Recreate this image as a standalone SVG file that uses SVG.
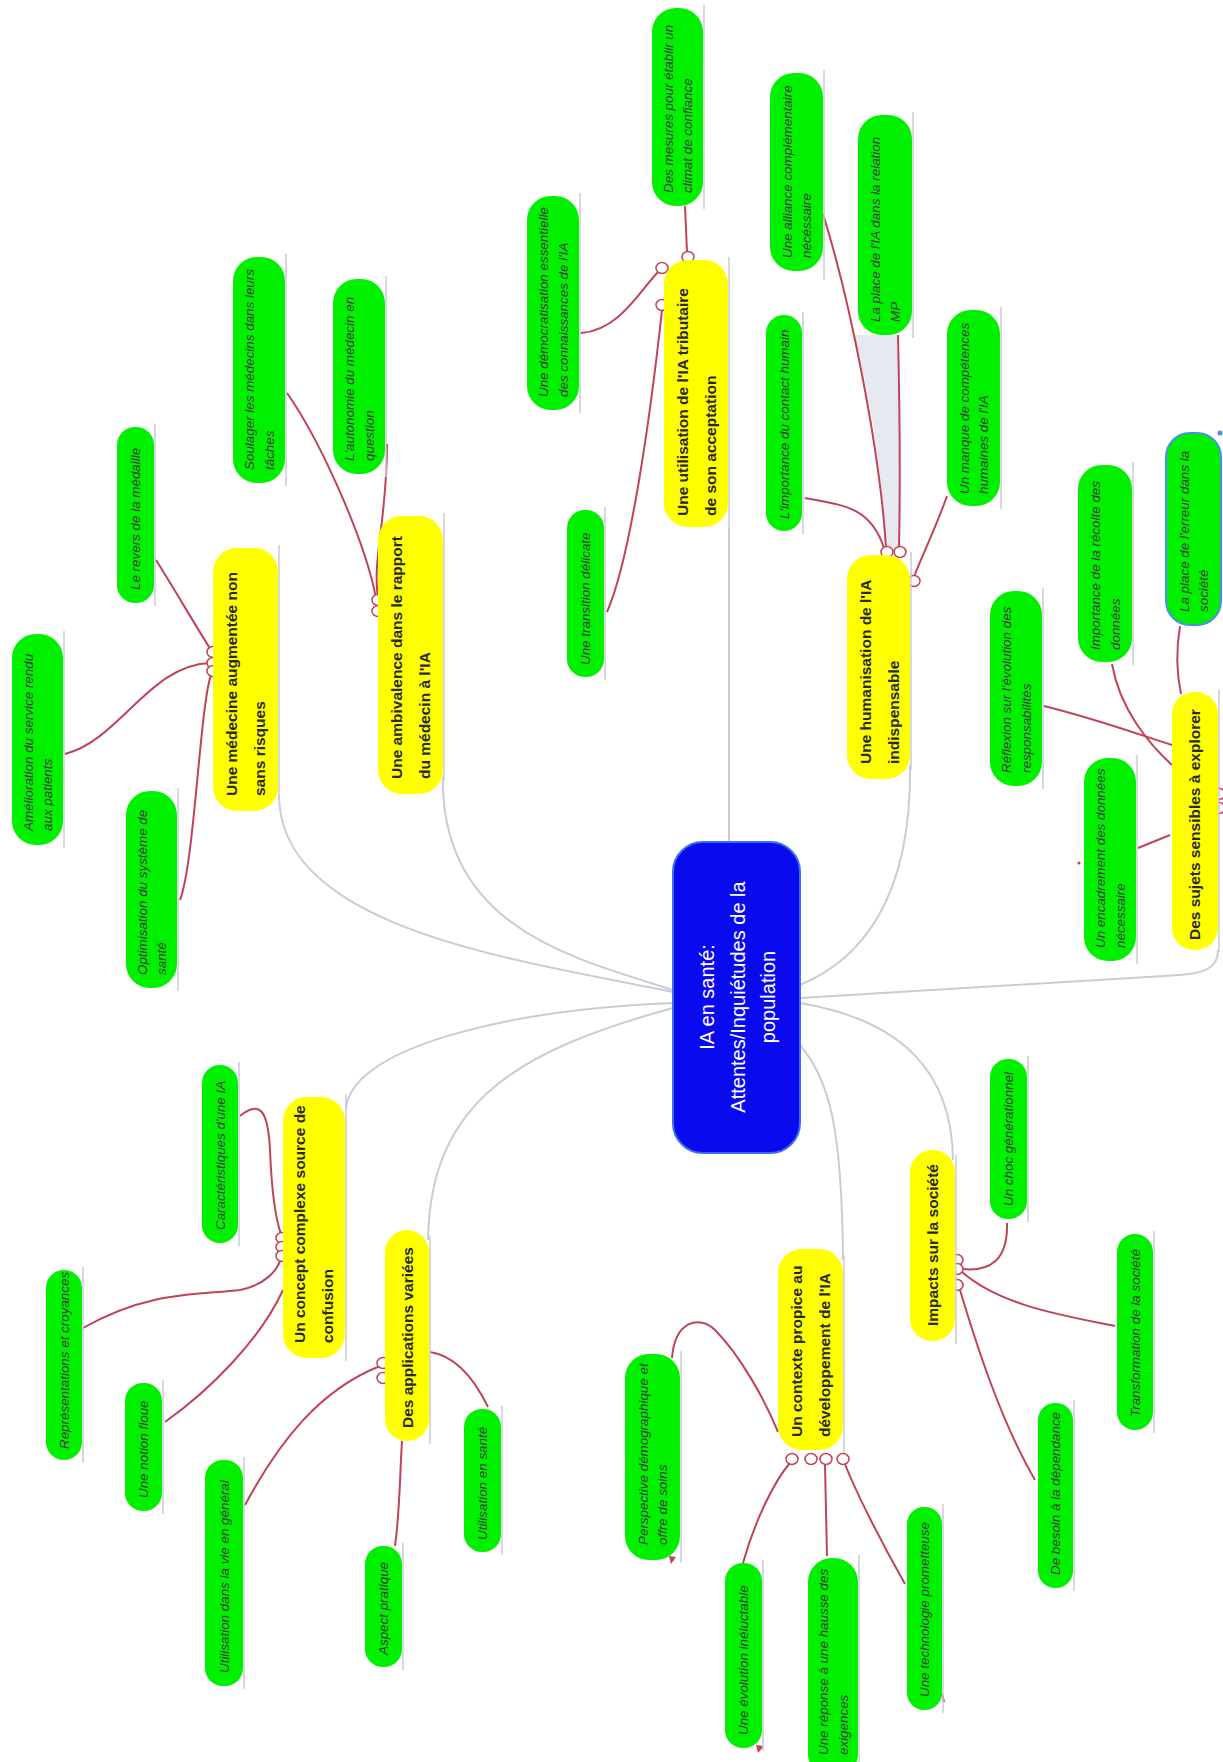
<svg xmlns="http://www.w3.org/2000/svg" width="1223" height="1762" viewBox="0 0 1223 1762">
<style>
.gb{fill:#00f000}
.yb{fill:#ffff00}
.gt{font-family:'Liberation Sans',Arial,sans-serif;font-style:italic;font-size:13.4px;fill:#363c36}
.yt{font-family:'Liberation Sans',Arial,sans-serif;font-weight:bold;font-size:15.5px;fill:#2a2a2a}
.ct{font-family:'Liberation Sans',Arial,sans-serif;font-size:20px;fill:#ffffff;text-anchor:middle}
.ul{stroke:#c9cdd6;stroke-width:1.5;fill:none}
.rc{fill:none;stroke:#c04458;stroke-width:2}
.gc{fill:none;stroke:#c8ccd4;stroke-width:2}
.dot{fill:#ffffff;stroke:#c04458;stroke-width:1.5}
</style>
<rect width="1223" height="1762" fill="#ffffff"/>

<g id="connectors">
  <path d="M853,335 L898,335 C900,420 900,500 899,548 L886,548 C882,470 870,390 853,335 Z" fill="#e6e9ef"/>
  <!-- gray from center -->
  <path class="gc" d="M279,795 C279,930 520,960 673,992"/>
  <path class="gc" d="M443,777 C440,930 580,960 673,990"/>
  <path class="gc" d="M729,527 L729,842"/>
  <path class="gc" d="M910,765 C912,900 860,960 800,985"/>
  <path class="gc" d="M1218,950 C1218,968 1205,973 1180,975 L800,998"/>
  <path class="gc" d="M346,1110 C348,1050 500,1010 673,1003"/>
  <path class="gc" d="M673,1008 C520,1050 430,1100 428,1240"/>
  <path class="gc" d="M800,1003 C900,1020 952,1070 953,1160"/>
  <path class="gc" d="M800,1045 C830,1080 842,1130 843,1260"/>
  <!-- red -->
  <path class="rc" d="M156,560 C175,590 195,625 211,650"/>
  <path class="rc" d="M65,754 C120,740 150,664 211,663"/>
  <path class="rc" d="M180,900 C195,860 200,700 212,672"/>
  <path class="rc" d="M287,393 C320,440 365,540 376,598"/>
  <path class="rc" d="M387,444 C387,520 372,560 378,598"/>
  <path class="rc" d="M685,206 L687,252"/>
  <path class="rc" d="M581,333 C620,330 640,290 659,271"/>
  <path class="rc" d="M607,612 C630,560 650,420 662,310"/>
  <path class="rc" d="M823,214 C850,300 880,450 886,548"/>
  <path class="rc" d="M898,335 C900,420 900,500 899,548"/>
  <path class="rc" d="M805,498 C840,505 870,505 884,548"/>
  <path class="rc" d="M947,496 C935,530 920,560 914,577"/>
  <path class="rc" d="M1044,706 C1100,720 1140,735 1172,745"/>
  <path class="rc" d="M1112,664 C1120,710 1150,745 1172,765"/>
  <path class="rc" d="M1180,626 C1176,650 1177,675 1181,694"/>
  <path class="rc" d="M1138,848 L1170,835"/>
  <path class="rc" d="M240,1116 C260,1100 268,1110 270,1150 C272,1200 276,1220 281,1234"/>
  <path class="rc" d="M83,1328 C150,1290 200,1295 240,1290 C265,1285 278,1270 281,1258"/>
  <path class="rc" d="M165,1422 C210,1390 260,1340 283,1290"/>
  <path class="rc" d="M245,1505 C280,1440 320,1390 380,1366"/>
  <path class="rc" d="M395,1546 C400,1510 400,1470 402,1441"/>
  <path class="rc" d="M488,1407 C470,1370 450,1355 430,1352"/>
  <path class="rc" d="M672,1358 C675,1320 700,1315 715,1330 C740,1355 765,1400 778,1432"/>
  <path class="rc" d="M743,1563 C755,1520 775,1480 790,1463"/>
  <path class="rc" d="M827,1556 L825,1465"/>
  <path class="rc" d="M905,1584 C880,1540 855,1490 845,1464"/>
  <path class="rc" d="M1007,1223 C1008,1260 990,1272 962,1269"/>
  <path class="rc" d="M1115,1326 C1060,1315 1000,1305 962,1272"/>
  <path class="rc" d="M1035,1480 C1000,1420 975,1340 960,1290"/>
  <!-- small red marks -->
  <path d="M669,1556 L676,1557 L671,1564 Z" fill="#c04458"/>
  <path d="M756,1745 L764,1746 L758,1753 Z" fill="#c04458"/>
  <path d="M942,1694 L944,1702" class="rc"/>
  <circle cx="1079" cy="863" r="1.5" fill="#c04458"/>
  <!-- connection circles -->
  <ellipse class="dot" cx="213" cy="652" rx="6" ry="5.5"/>
  <ellipse class="dot" cx="213" cy="663" rx="6" ry="5.5"/>
  <ellipse class="dot" cx="213" cy="671" rx="6" ry="5.5"/>
  <ellipse class="dot" cx="378" cy="600" rx="6" ry="5.5"/>
  <ellipse class="dot" cx="378" cy="611" rx="6" ry="5.5"/>
  <ellipse class="dot" cx="662" cy="268" rx="6" ry="5.5"/>
  <ellipse class="dot" cx="688" cy="257" rx="6" ry="5.5"/>
  <ellipse class="dot" cx="662" cy="305" rx="6" ry="5.5"/>
  <ellipse class="dot" cx="887" cy="552" rx="6" ry="5.5"/>
  <ellipse class="dot" cx="900" cy="552" rx="6" ry="5.5"/>
  <ellipse class="dot" cx="914" cy="581" rx="6" ry="5.5"/>
  <ellipse class="dot" cx="1219" cy="794" rx="6" ry="5.5"/>
  <ellipse class="dot" cx="1219" cy="808" rx="6" ry="5.5"/>
  <ellipse class="dot" cx="282" cy="1238" rx="6" ry="5.5"/>
  <ellipse class="dot" cx="282" cy="1247" rx="6" ry="5.5"/>
  <ellipse class="dot" cx="282" cy="1256" rx="6" ry="5.5"/>
  <ellipse class="dot" cx="383" cy="1363" rx="6" ry="5.5"/>
  <ellipse class="dot" cx="383" cy="1378" rx="6" ry="5.5"/>
  <ellipse class="dot" cx="792" cy="1459" rx="6" ry="5.5"/>
  <ellipse class="dot" cx="811" cy="1459" rx="6" ry="5.5"/>
  <ellipse class="dot" cx="826" cy="1459" rx="6" ry="5.5"/>
  <ellipse class="dot" cx="843" cy="1459" rx="6" ry="5.5"/>
  <ellipse class="dot" cx="957" cy="1260" rx="6" ry="5.5"/>
  <ellipse class="dot" cx="957" cy="1269" rx="6" ry="5.5"/>
  <ellipse class="dot" cx="957" cy="1285" rx="6" ry="5.5"/>
</g>

<g id="center">
  <rect x="673" y="842" width="127" height="311" rx="30" fill="#0a0aee" stroke="#3a6df0" stroke-width="2"/>
  <text class="ct" transform="translate(714,997) rotate(-90)">IA en santé:</text>
  <text class="ct" transform="translate(745,997) rotate(-90)">Attentes/Inquiétudes de la</text>
  <text class="ct" transform="translate(775,997) rotate(-90)">population</text>
</g>

<g id="y-medecine"><rect class="yb" x="213" y="548" width="65" height="263" rx="24"/><line class="ul" x1="279" y1="545" x2="279" y2="800"/>
  <text class="yt" transform="translate(237,796) rotate(-90)"><tspan x="0" y="0">Une médecine augmentée non</tspan><tspan x="0" y="28">sans risques</tspan></text></g>
<g id="y-ambivalence"><rect class="yb" x="378" y="516" width="65" height="278" rx="24"/><line class="ul" x1="444" y1="513" x2="444" y2="780"/>
  <text class="yt" transform="translate(402,779) rotate(-90)"><tspan x="0" y="0">Une ambivalence dans le rapport</tspan><tspan x="0" y="28">du médecin à l'IA</tspan></text></g>
<g id="y-tributaire"><rect class="yb" x="664" y="260" width="64" height="267" rx="24"/><line class="ul" x1="729" y1="257" x2="729" y2="527"/>
  <text class="yt" transform="translate(688,516) rotate(-90)"><tspan x="0" y="0">Une utilisation de l'IA tributaire</tspan><tspan x="0" y="28">de son acceptation</tspan></text></g>
<g id="y-humanisation"><rect class="yb" x="847" y="555" width="63" height="224" rx="24"/><line class="ul" x1="911" y1="552" x2="911" y2="770"/>
  <text class="yt" transform="translate(871,764) rotate(-90)"><tspan x="0" y="0">Une humanisation de l'IA</tspan><tspan x="0" y="28">indispensable</tspan></text></g>
<g id="y-sujets"><rect class="yb" x="1172" y="692" width="46" height="258" rx="22"/><line class="ul" x1="1219" y1="689" x2="1219" y2="952"/>
  <text class="yt" transform="translate(1200,940) rotate(-90)">Des sujets sensibles à explorer</text></g>
<g id="y-concept"><rect class="yb" x="283" y="1097" width="62" height="261" rx="24"/><line class="ul" x1="346" y1="1094" x2="346" y2="1361"/>
  <text class="yt" transform="translate(305,1343) rotate(-90)"><tspan x="0" y="0">Un concept complexe source de</tspan><tspan x="0" y="28">confusion</tspan></text></g>
<g id="y-applications"><rect class="yb" x="385" y="1230" width="44" height="211" rx="22"/><line class="ul" x1="430" y1="1236" x2="430" y2="1444"/>
  <text class="yt" transform="translate(412.5,1428) rotate(-90)">Des applications variées</text></g>
<g id="y-contexte"><rect class="yb" x="778" y="1249" width="65" height="201" rx="24"/><line class="ul" x1="844" y1="1255" x2="844" y2="1453"/>
  <text class="yt" transform="translate(802,1437) rotate(-90)"><tspan x="0" y="0">Un contexte propice au</tspan><tspan x="0" y="28">développement de l'IA</tspan></text></g>
<g id="y-impacts"><rect class="yb" x="910" y="1150" width="45" height="191" rx="22"/><line class="ul" x1="956" y1="1155" x2="956" y2="1344"/>
  <text class="yt" transform="translate(938,1326) rotate(-90)">Impacts sur la société</text></g>

<g id="g-revers"><rect class="gb" x="117" y="427" width="37" height="176" rx="18"/><line class="ul" x1="155" y1="424" x2="155" y2="606"/>
  <text class="gt" transform="translate(140,590) rotate(-90)">Le revers de la médaille</text></g>
<g id="g-soulager"><rect class="gb" x="233" y="257" width="52" height="226" rx="24"/><line class="ul" x1="286" y1="254" x2="286" y2="486"/>
  <text class="gt" transform="translate(254,470) rotate(-90)"><tspan x="0" y="0">Soulager les médecins dans leurs</tspan><tspan x="0" y="19.5">tâches</tspan></text></g>
<g id="g-autonomie"><rect class="gb" x="333" y="279" width="52" height="195" rx="24"/><line class="ul" x1="386" y1="276" x2="386" y2="477"/>
  <text class="gt" transform="translate(354,461) rotate(-90)"><tspan x="0" y="0">L'autonomie du médecin en</tspan><tspan x="0" y="19.5">question</tspan></text></g>
<g id="g-amelioration"><rect class="gb" x="12" y="634" width="51" height="211" rx="24"/><line class="ul" x1="64" y1="631" x2="64" y2="848"/>
  <text class="gt" transform="translate(32.5,831) rotate(-90)"><tspan x="0" y="0">Amélioration du service rendu</tspan><tspan x="0" y="19.5">aux patients</tspan></text></g>
<g id="g-optimisation"><rect class="gb" x="126" y="791" width="51" height="197" rx="24"/><line class="ul" x1="178" y1="788" x2="178" y2="991"/>
  <text class="gt" transform="translate(146.5,975) rotate(-90)"><tspan x="0" y="0">Optimisation du système de</tspan><tspan x="0" y="19.5">santé</tspan></text></g>
<g id="g-caracteristiques"><rect class="gb" x="202" y="1065" width="36" height="178" rx="18"/><line class="ul" x1="239" y1="1062" x2="239" y2="1246"/>
  <text class="gt" transform="translate(224.5,1230) rotate(-90)">Caractéristiques d'une IA</text></g>
<g id="g-representations"><rect class="gb" x="46" y="1270" width="36" height="190" rx="18"/><line class="ul" x1="83" y1="1267" x2="83" y2="1463"/>
  <text class="gt" transform="translate(68.5,1449) rotate(-90)">Représentations et croyances</text></g>
<g id="g-notion"><rect class="gb" x="125" y="1383" width="37" height="128" rx="18"/><line class="ul" x1="163" y1="1380" x2="163" y2="1514"/>
  <text class="gt" transform="translate(148,1498) rotate(-90)">Une notion floue</text></g>
<g id="g-vie"><rect class="gb" x="205" y="1460" width="38" height="226" rx="18"/><line class="ul" x1="244" y1="1457" x2="244" y2="1689"/>
  <text class="gt" transform="translate(228.5,1673) rotate(-90)">Utilisation dans la vie en général</text></g>
<g id="g-aspect"><rect class="gb" x="365" y="1546" width="37" height="121" rx="18"/><line class="ul" x1="403" y1="1543" x2="403" y2="1670"/>
  <text class="gt" transform="translate(388,1655) rotate(-90)">Aspect pratique</text></g>
<g id="g-sante"><rect class="gb" x="464" y="1409" width="37" height="143" rx="18"/><line class="ul" x1="502" y1="1406" x2="502" y2="1555"/>
  <text class="gt" transform="translate(487,1540) rotate(-90)">Utilisation en santé</text></g>
<g id="g-perspective"><rect class="gb" x="625" y="1354" width="55" height="206" rx="24"/><line class="ul" x1="681" y1="1351" x2="681" y2="1563"/>
  <text class="gt" transform="translate(647.5,1545) rotate(-90)"><tspan x="0" y="0">Perspective démographique et</tspan><tspan x="0" y="19.5">offre de soins</tspan></text></g>
<g id="g-evolution"><rect class="gb" x="725" y="1563" width="37" height="185" rx="18"/><line class="ul" x1="763" y1="1560" x2="763" y2="1751"/>
  <text class="gt" transform="translate(748,1735) rotate(-90)">Une évolution inéluctable</text></g>
<g id="g-reponse"><rect class="gb" x="808" y="1558" width="50" height="220" rx="24"/><line class="ul" x1="859" y1="1555" x2="859" y2="1762"/>
  <text class="gt" transform="translate(828,1755) rotate(-90)"><tspan x="0" y="0">Une réponse à une hausse des</tspan><tspan x="0" y="19.5">exigences</tspan></text></g>
<g id="g-technologie"><rect class="gb" x="907" y="1507" width="35" height="203" rx="17"/><line class="ul" x1="943" y1="1504" x2="943" y2="1713"/>
  <text class="gt" transform="translate(929,1697) rotate(-90)">Une technologie prometteuse</text></g>
<g id="g-besoin"><rect class="gb" x="1038" y="1403" width="35" height="185" rx="17"/><line class="ul" x1="1074" y1="1400" x2="1074" y2="1591"/>
  <text class="gt" transform="translate(1060,1575) rotate(-90)">De besoin à la dépendance</text></g>
<g id="g-transformation"><rect class="gb" x="1117" y="1234" width="36" height="196" rx="18"/><line class="ul" x1="1154" y1="1231" x2="1154" y2="1433"/>
  <text class="gt" transform="translate(1139.5,1417) rotate(-90)">Transformation de la société</text></g>
<g id="g-choc"><rect class="gb" x="990" y="1059" width="37" height="160" rx="18"/><line class="ul" x1="1028" y1="1056" x2="1028" y2="1222"/>
  <text class="gt" transform="translate(1013,1206) rotate(-90)">Un choc générationnel</text></g>
<g id="g-encadrement"><rect class="gb" x="1084" y="758" width="52" height="203" rx="24"/><line class="ul" x1="1137" y1="755" x2="1137" y2="964"/>
  <text class="gt" transform="translate(1105,948) rotate(-90)"><tspan x="0" y="0">Un encadrement des données</tspan><tspan x="0" y="19.5">nécessaire</tspan></text></g>
<g id="g-reflexion"><rect class="gb" x="990" y="591" width="52" height="195" rx="24"/><line class="ul" x1="1043" y1="588" x2="1043" y2="789"/>
  <text class="gt" transform="translate(1011,773) rotate(-90)"><tspan x="0" y="0">Réflexion sur l'évolution des</tspan><tspan x="0" y="19.5">responsabilités</tspan></text></g>
<g id="g-importance"><rect class="gb" x="1078" y="465" width="54" height="197" rx="24"/><line class="ul" x1="1133" y1="462" x2="1133" y2="665"/>
  <text class="gt" transform="translate(1100,650) rotate(-90)"><tspan x="0" y="0">Importance de la récolte des</tspan><tspan x="0" y="19.5">données</tspan></text></g>
<g id="g-erreur"><rect class="gb" x="1166" y="433" width="55" height="192" rx="24" stroke="#4a90e2" stroke-width="2"/><circle cx="1220" cy="433" r="2.5" fill="#4a90e2"/>
  <text class="gt" transform="translate(1188.5,612) rotate(-90)"><tspan x="0" y="0">La place de l'erreur dans la</tspan><tspan x="0" y="19.5">société</tspan></text></g>
<g id="g-manque"><rect class="gb" x="947" y="310" width="53" height="196" rx="24"/><line class="ul" x1="1001" y1="307" x2="1001" y2="509"/>
  <text class="gt" transform="translate(968.5,494) rotate(-90)"><tspan x="0" y="0">Un manque de compétences</tspan><tspan x="0" y="19.5">humaines de l'IA</tspan></text></g>
<g id="g-placemp"><rect class="gb" x="858" y="115" width="54" height="220" rx="24"/><line class="ul" x1="913" y1="112" x2="913" y2="338"/>
  <text class="gt" transform="translate(880,322) rotate(-90)"><tspan x="0" y="0">La place de l'IA dans la relation</tspan><tspan x="0" y="19.5">MP</tspan></text></g>
<g id="g-alliance"><rect class="gb" x="770" y="73" width="53" height="198" rx="24"/><line class="ul" x1="824" y1="70" x2="824" y2="280"/>
  <text class="gt" transform="translate(791.5,258) rotate(-90)"><tspan x="0" y="0">Une alliance complémentaire</tspan><tspan x="0" y="19.5">nécéssaire</tspan></text></g>
<g id="g-contact"><rect class="gb" x="766" y="315" width="36" height="216" rx="18"/><line class="ul" x1="803" y1="312" x2="803" y2="534"/>
  <text class="gt" transform="translate(788.5,519) rotate(-90)">L'importance du contact humain</text></g>
<g id="g-transition"><rect class="gb" x="567" y="510" width="37" height="167" rx="18"/><line class="ul" x1="605" y1="507" x2="605" y2="680"/>
  <text class="gt" transform="translate(590,665) rotate(-90)">Une transition délicate</text></g>
<g id="g-democratisation"><rect class="gb" x="527" y="196" width="52" height="214" rx="24"/><line class="ul" x1="580" y1="193" x2="580" y2="413"/>
  <text class="gt" transform="translate(548,397) rotate(-90)"><tspan x="0" y="0">Une démocratisation essentielle</tspan><tspan x="0" y="19.5">des connaissances de l'IA</tspan></text></g>
<g id="g-mesures"><rect class="gb" x="652" y="8" width="51" height="198" rx="24"/><line class="ul" x1="704" y1="5" x2="704" y2="209"/>
  <text class="gt" transform="translate(672.5,193) rotate(-90)"><tspan x="0" y="0">Des mesures pour établir un</tspan><tspan x="0" y="19.5">climat de confiance</tspan></text></g>
</svg>
